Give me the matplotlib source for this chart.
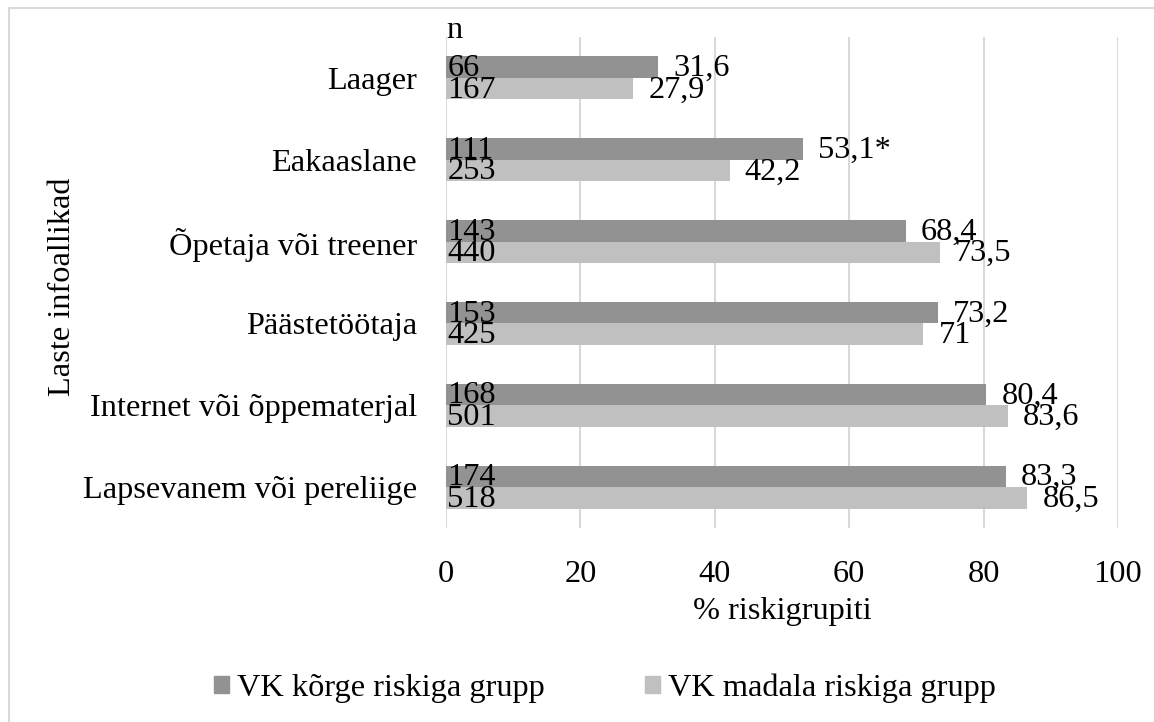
import numpy as np
import matplotlib
matplotlib.use('Agg')
import matplotlib.pyplot as plt
from matplotlib.patches import Patch
from matplotlib.lines import Line2D

plt.rcParams['font.family'] = ['Liberation Serif', 'DejaVu Serif']

# andmed (ülevalt alla)
categories = ['Laager', 'Eakaaslane', 'Õpetaja või treener', 'Päästetöötaja',
              'Internet või õppematerjal', 'Lapsevanem või pereliige']
high_pct = [31.6, 53.1, 68.4, 73.2, 80.4, 83.3]
low_pct = [27.9, 42.2, 73.5, 71.0, 83.6, 86.5]
high_lbl = ['31,6', '53,1*', '68,4', '73,2', '80,4', '83,3']
low_lbl = ['27,9', '42,2', '73,5', '71', '83,6', '86,5']
high_n = [66, 111, 143, 153, 168, 174]
low_n = [167, 253, 440, 425, 501, 518]
series = ['VK kõrge riskiga grupp', 'VK madala riskiga grupp']

c_dark = '#929292'
c_light = '#c0c0c0'
fs = 23.3

fig = plt.figure(figsize=(11.54, 7.22), dpi=100)
ax = fig.add_axes([446/1154, 1-528/722, 672/1154, 491/722])

y = np.arange(len(categories))[::-1]
h = 0.263
ax.barh(y + h/2, high_pct, height=h, color=c_dark)
ax.barh(y - h/2, low_pct, height=h, color=c_light)

for i in range(len(categories)):
    ax.annotate(high_lbl[i], (high_pct[i], y[i] + h/2), xytext=(11, -1),
                textcoords='offset points', ha='left', va='center', fontsize=fs)
    ax.annotate(low_lbl[i], (low_pct[i], y[i] - h/2), xytext=(11, -1),
                textcoords='offset points', ha='left', va='center', fontsize=fs)
    ax.annotate(str(high_n[i]), (0, y[i] + h/2), xytext=(1, -1),
                textcoords='offset points', ha='left', va='center', fontsize=fs)
    ax.annotate(str(low_n[i]), (0, y[i] - h/2), xytext=(1, -1),
                textcoords='offset points', ha='left', va='center', fontsize=fs)

ax.set_xlim(0, 100)
ax.set_ylim(-0.5, len(categories) - 0.5)
ax.set_xticks([0, 20, 40, 60, 80, 100])
ax.set_yticks(y)
ax.set_yticklabels(categories)
ax.tick_params(axis='both', length=0, labelsize=fs)
ax.tick_params(axis='x', pad=23)
ax.tick_params(axis='y', pad=21)
ax.grid(axis='x', color='#d9d9d9', lw=1.5)
ax.set_axisbelow(True)
for s in ax.spines.values():
    s.set_visible(False)

fig.text(782/1154, 1-612/722, '% riskigrupiti', ha='center', va='center', fontsize=fs)
fig.text(62/1154, 1-287/722, 'Laste infoallikad', ha='center', va='center',
         rotation=90, fontsize=fs)
fig.text(446/1154, 1-38/722, 'n', ha='left', va='baseline', fontsize=fs)

handles = [Patch(color=c_dark), Patch(color=c_light)]
fig.legend(handles, series, loc='center', bbox_to_anchor=(605/1154, 1-688/722),
           ncol=2, frameon=False, fontsize=fs, handlelength=0.45, handleheight=0.45,
           handletextpad=0.25, columnspacing=3.1)

# raam
fig.add_artist(Line2D([9/1154, 1.01], [1-8/722, 1-8/722], color='#d9d9d9', lw=1.5,
                      transform=fig.transFigure))
fig.add_artist(Line2D([9/1154, 9/1154], [1-8/722, -0.01], color='#d9d9d9', lw=1.5,
                      transform=fig.transFigure))

fig.savefig('out.png', dpi=100)
